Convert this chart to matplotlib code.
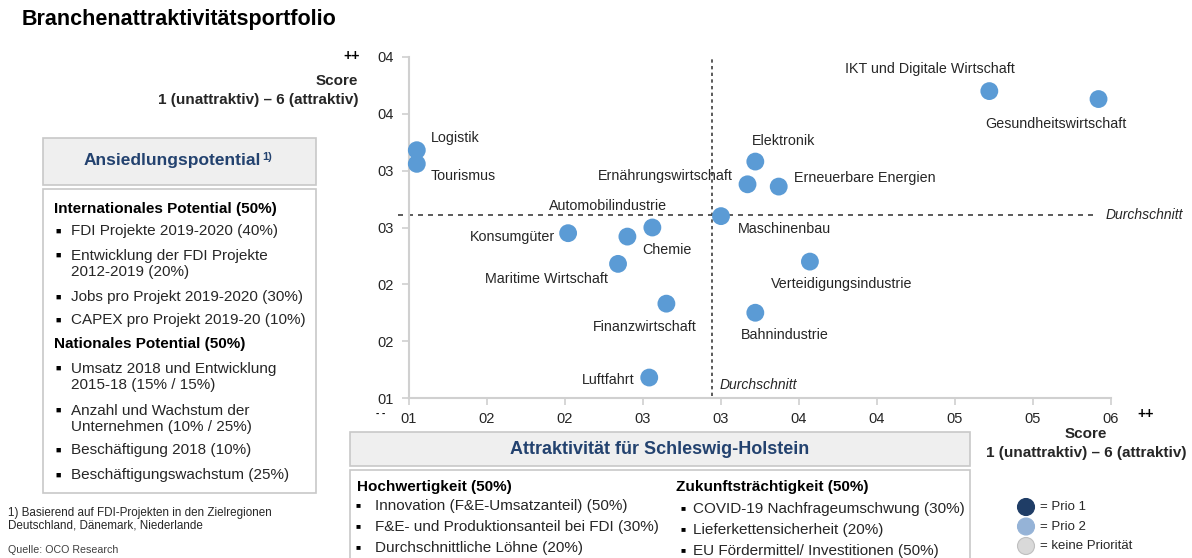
import matplotlib.pyplot as plt
from matplotlib.patches import Rectangle, Ellipse

plt.rcParams['font.family'] = ['Liberation Sans', 'DejaVu Sans']

W, H = 1192, 558

# ------------------------------------------------------------
# Data
# ------------------------------------------------------------
branchen = ['Logistik', 'Tourismus', 'IKT und Digitale Wirtschaft', 'Gesundheitswirtschaft',
            'Elektronik', 'Ernährungswirtschaft', 'Erneuerbare Energien', 'Maschinenbau',
            'Automobilindustrie', 'Chemie', 'Konsumgüter', 'Maritime Wirtschaft',
            'Finanzwirtschaft', 'Luftfahrt', 'Verteidigungsindustrie', 'Bahnindustrie']
ansiedlung = [1.05, 1.05, 4.72, 5.42, 3.22, 3.17, 3.37, 3.00,
              2.40, 2.56, 2.02, 2.34, 2.65, 2.54, 3.57, 3.22]
attraktiv_y = [3.18, 3.06, 3.70, 3.63, 3.08, 2.88, 2.86, 2.60,
               2.42, 2.50, 2.45, 2.18, 1.83, 1.18, 2.20, 1.75]
avg_x = 2.94
avg_y = 2.61

x_ticks = [1.0, 1.5, 2.0, 2.5, 3.0, 3.5, 4.0, 4.5, 5.0, 5.5]
x_ticklabels = ['01', '02', '02', '03', '03', '04', '04', '05', '05', '06']
y_ticks = [1.0, 1.5, 2.0, 2.5, 3.0, 3.5, 4.0]
y_ticklabels = ['01', '02', '02', '03', '03', '04', '04']

# label placement (pixel offsets from the dot, alignment)
label_pos = {
    'Logistik': (14, 12, 'left'),
    'Tourismus': (14, -12, 'left'),
    'IKT und Digitale Wirtschaft': (-59, 22, 'center'),
    'Gesundheitswirtschaft': (-43, -25, 'center'),
    'Elektronik': (28, 21, 'center'),
    'Ernährungswirtschaft': (-15, 8, 'right'),
    'Erneuerbare Energien': (15, 9, 'left'),
    'Maschinenbau': (17, -13, 'left'),
    'Automobilindustrie': (-19, 31, 'center'),
    'Chemie': (15, -23, 'center'),
    'Konsumgüter': (-13, -4, 'right'),
    'Maritime Wirtschaft': (-10, -15, 'right'),
    'Finanzwirtschaft': (-22, -23, 'center'),
    'Luftfahrt': (-15, -2, 'right'),
    'Verteidigungsindustrie': (32, -22, 'center'),
    'Bahnindustrie': (29, -22, 'center'),
}

left_items = [
    ('h', 'Internationales Potential (50%)'),
    ('b', 'FDI Projekte 2019-2020 (40%)'),
    ('b', 'Entwicklung der FDI Projekte\n2012-2019 (20%)'),
    ('b', 'Jobs pro Projekt 2019-2020 (30%)'),
    ('b', 'CAPEX pro Projekt 2019-20 (10%)'),
    ('h', 'Nationales Potential (50%)'),
    ('b', 'Umsatz 2018 und Entwicklung\n2015-18 (15% / 15%)'),
    ('b', 'Anzahl und Wachstum der\nUnternehmen (10% / 25%)'),
    ('b', 'Beschäftigung 2018 (10%)'),
    ('b', 'Beschäftigungswachstum (25%)'),
]
left_y = [209, 231, 264, 297, 320, 344, 377, 419, 450, 475]

hoch_items = ['Innovation (F&E-Umsatzanteil) (50%)',
              'F&E- und Produktionsanteil bei FDI (30%)',
              'Durchschnittliche Löhne (20%)']
zukunft_items = ['COVID-19 Nachfrageumschwung (30%)',
                 'Lieferkettensicherheit (20%)',
                 'EU Fördermittel/ Investitionen (50%)']
hoch_y = [506, 527, 548]
zukunft_y = [509, 530, 551]

legend_labels = ['= Prio 1', '= Prio 2', '= keine Priorität']
legend_colors = ['#1F3D66', '#95B3D7', '#D9D9D9']

DOT = '#5B9BD5'
NAVY = '#23426F'
TXT = '#262626'


def fx(x):
    return x / W


def fy(y):
    return 1 - y / H


fig = plt.figure(figsize=(W / 100, H / 100), dpi=100)

# ------------------------------------------------------------
# Scatter
# ------------------------------------------------------------
ax = fig.add_axes([fx(409), fy(398), (1111 - 409) / W, (398 - 57) / H])
ax.set_xlim(1.0, 5.5)
ax.set_ylim(1.0, 4.0)
for s in ['top', 'right']:
    ax.spines[s].set_visible(False)
for s in ['left', 'bottom']:
    ax.spines[s].set_color('#D0D0D0')
    ax.spines[s].set_linewidth(1.5)
ax.set_xticks(x_ticks)
ax.set_xticklabels(x_ticklabels)
ax.set_yticks(y_ticks)
ax.set_yticklabels(y_ticklabels)
ax.tick_params(colors='#D0D0D0', labelcolor=TXT, labelsize=10.5, length=5, width=1.2)
ax.tick_params(axis='x', pad=5)
ax.tick_params(axis='y', pad=6)

ax.plot([0.93, 5.40], [avg_y, avg_y], ls=(0, (3, 3)), color='#404040', lw=1.2, clip_on=False, zorder=1)
ax.plot([avg_x, avg_x], [1.02, 3.99], ls=(0, (2, 2)), color='#404040', lw=1.2, clip_on=False, zorder=1)
ax.text(5.96, avg_y, 'Durchschnitt', style='italic', fontsize=10, color=TXT,
        ha='right', va='center', clip_on=False)
ax.text(avg_x + 0.05, 1.11, 'Durchschnitt', style='italic', fontsize=10, color=TXT,
        ha='left', va='center')

ax.scatter(ansiedlung, attraktiv_y, s=165, color=DOT, edgecolors='none', zorder=3, clip_on=False)
for name, x, y in zip(branchen, ansiedlung, attraktiv_y):
    dx, dy, ha = label_pos[name]
    ax.annotate(name, (x, y), xytext=(dx, dy), textcoords='offset pixels',
                ha=ha, va='center', fontsize=10.3, color=TXT)

# ------------------------------------------------------------
# Texts around
# ------------------------------------------------------------
fig.text(fx(22), fy(20), 'Branchenattraktivitätsportfolio', fontsize=15.5, fontweight='bold',
         ha='left', va='center', color='black')

fig.text(fx(360), fy(56), '++', fontsize=10, fontweight='bold', ha='right', va='center')
fig.text(fx(358), fy(81), 'Score', fontsize=11, fontweight='bold', ha='right', va='center', color=TXT)
fig.text(fx(358), fy(100), '1 (unattraktiv) – 6 (attraktiv)', fontsize=11, fontweight='bold',
         ha='right', va='center', color=TXT)
fig.text(fx(381), fy(413), '- -', fontsize=7, fontweight='bold', ha='center', va='center')
fig.text(fx(1146), fy(414), '++', fontsize=10, fontweight='bold', ha='center', va='center')
fig.text(fx(1086), fy(434), 'Score', fontsize=11, fontweight='bold', ha='center', va='center', color=TXT)
fig.text(fx(1086), fy(453), '1 (unattraktiv) – 6 (attraktiv)', fontsize=11, fontweight='bold',
         ha='center', va='center', color=TXT)

# left box
fig.patches.append(Rectangle((fx(43), fy(185)), (316 - 43) / W, (185 - 138) / H,
                             transform=fig.transFigure, facecolor='#EFEFEF',
                             edgecolor='#C8C8C8', lw=1.2))
fig.text(fx(172), fy(161), 'Ansiedlungspotential', fontsize=12.5, fontweight='bold',
         color=NAVY, ha='center', va='center')
fig.text(fx(262), fy(157), '1)', fontsize=8, fontweight='bold', color=NAVY, ha='left', va='center')
fig.patches.append(Rectangle((fx(43), fy(493)), (316 - 43) / W, (493 - 189) / H,
                             transform=fig.transFigure, facecolor='white',
                             edgecolor='#C8C8C8', lw=1.2))
for (kind, txt), y in zip(left_items, left_y):
    if kind == 'h':
        fig.text(fx(54), fy(y), txt, fontsize=11, fontweight='bold', color='black',
                 ha='left', va='center')
    else:
        nl = txt.count('\n')
        top = y - nl * 8.5
        fig.text(fx(58), fy(top), '■', fontsize=6.5, color='black', ha='center', va='center')
        fig.text(fx(71), fy(y), txt, fontsize=11, color=TXT, ha='left', va='center',
                 linespacing=1.1)

fig.text(fx(8), fy(519), '1) Basierend auf FDI-Projekten in den Zielregionen\nDeutschland, Dänemark, Niederlande',
         fontsize=8.4, color=TXT, ha='left', va='center', linespacing=1.1)
fig.text(fx(8), fy(550), 'Quelle: OCO Research', fontsize=7.7, color='#404040', ha='left', va='center')

# bottom box
fig.patches.append(Rectangle((fx(350), fy(466)), (970 - 350) / W, (466 - 432) / H,
                             transform=fig.transFigure, facecolor='#EFEFEF',
                             edgecolor='#C8C8C8', lw=1.2))
fig.text(fx(660), fy(450), 'Attraktivität für Schleswig-Holstein', fontsize=13, fontweight='bold',
         color=NAVY, ha='center', va='center')
fig.patches.append(Rectangle((fx(350), fy(575)), (970 - 350) / W, (575 - 470) / H,
                             transform=fig.transFigure, facecolor='white',
                             edgecolor='#C8C8C8', lw=1.2))
fig.text(fx(357), fy(487), 'Hochwertigkeit (50%)', fontsize=11, fontweight='bold',
         color='black', ha='left', va='center')
fig.text(fx(676), fy(487), 'Zukunftsträchtigkeit (50%)', fontsize=11, fontweight='bold',
         color='black', ha='left', va='center')
for a, ya in zip(hoch_items, hoch_y):
    fig.text(fx(358), fy(ya), '■', fontsize=6, color='black', ha='center', va='center')
    fig.text(fx(375), fy(ya), a, fontsize=11, color=TXT, ha='left', va='center')
for b, yb in zip(zukunft_items, zukunft_y):
    fig.text(fx(683), fy(yb), '■', fontsize=6, color='black', ha='center', va='center')
    fig.text(fx(693), fy(yb), b, fontsize=11, color=TXT, ha='left', va='center')

# legend
for i, (lab, col) in enumerate(zip(legend_labels, legend_colors)):
    y = 507 + i * 19.5
    fig.patches.append(Ellipse((fx(1026), fy(y)), 17 / W, 17 / H, transform=fig.transFigure,
                               facecolor=col, edgecolor='#BFBFBF' if i == 2 else col, lw=0.8))
    fig.text(fx(1040), fy(y), lab, fontsize=9.5, color=TXT, ha='left', va='center')

fig.savefig('out.png', dpi=100, facecolor='white')
